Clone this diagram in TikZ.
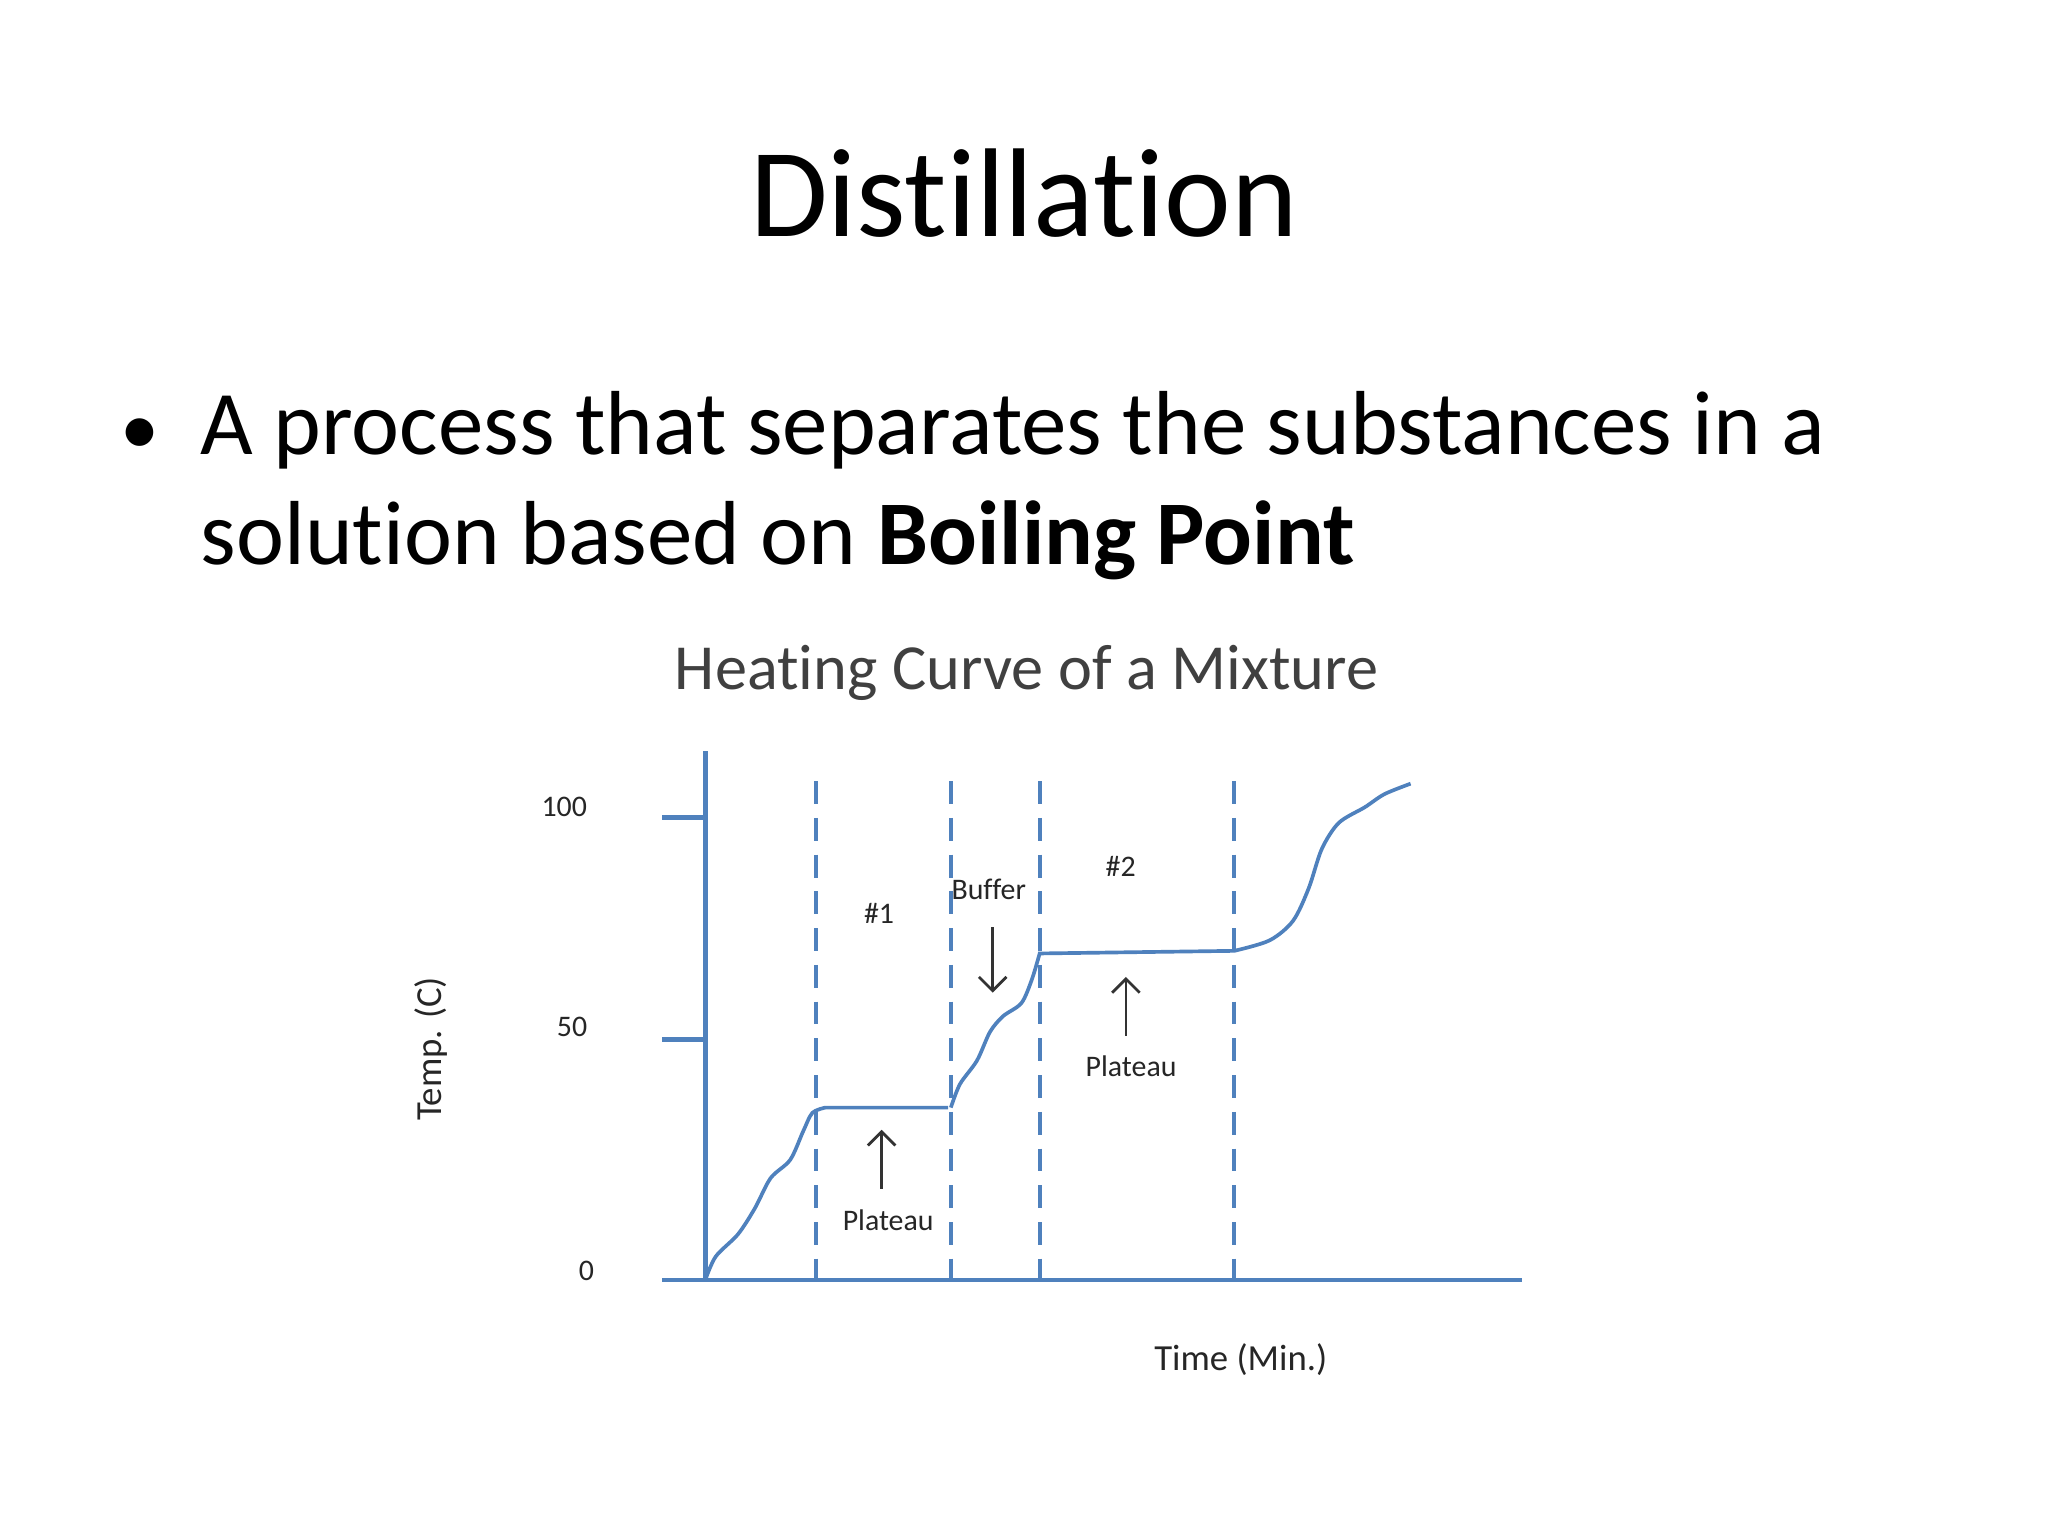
\documentclass[tikz,border=0pt]{standalone}
\usepackage{fontspec}
\setmainfont[Ligatures=NoCommon]{Carlito}
\usetikzlibrary{arrows.meta}
\definecolor{cblue}{RGB}{79,129,189}
\begin{document}
\begin{tikzpicture}[x=0.01cm,y=-0.01cm,
  ax/.style={cblue,line width=1pt},
  dsh/.style={cblue,line width=0.8pt,dash pattern=on 5pt off 3pt},
  small/.style={font=\fontsize{6.5}{7}\selectfont,text=black!85},
  arr/.style={-{Straight Barb[length=3pt]},black!80,line width=0.6pt}]
\useasboundingbox[fill=white] (0,0) rectangle (1568,1176);
\node (title) at (784,148) {\fontsize{27.5}{32}\selectfont Distillation};
\node[anchor=base,inner sep=0] (b) at (107,348) {\fontsize{17}{24}\selectfont •};
\node[anchor=base west,inner sep=0] (l1) at (153,348) {\fontsize{19.8}{24}\selectfont A process that separates the substances in a};
\node[anchor=base west,inner sep=0] (l2) at (153,432) {\fontsize{19.8}{24}\selectfont solution based on \textbf{Boiling Point}};
\node[text=black!75] (ct) at (786,515) {\fontsize{14}{16}\selectfont Heating Curve of a Mixture};
% axes
\coordinate (o) at (540,980);
\coordinate (yt) at (540,575);
\coordinate (xl) at (507,980);
\coordinate (xr) at (1165,980);
\draw[ax] (o) -- (yt);
\draw[ax] (xl) -- (xr);
\coordinate (t1a) at (507,626); \coordinate (t1b) at (540,626);
\coordinate (t2a) at (507,796); \coordinate (t2b) at (540,796);
\draw[ax] (t1a) -- (t1b);
\draw[ax] (t2a) -- (t2b);
\node[small] (n100) at (432,618) {100};
\node[small] (n50) at (438,786) {50};
\node[small] (n0) at (449,973) {0};
\node[small,rotate=90,font=\fontsize{8}{9}\selectfont] (yl) at (330,803) {Temp. (C)};
\node[small,font=\fontsize{8}{9}\selectfont] (xlab) at (950,1041) {Time (Min.)};
% dashed
\foreach \x in {625,728,796,945}{\draw[dsh] (\x,598) -- (\x,980);}
% curve
\draw[cblue,line width=0.8pt] plot[smooth,tension=0.5] coordinates {(540,980) (548,962) (565,945) (578,925) (590,902) (605,888) (615,866) (622,852) (632,848)} -- (726,848)
  plot[smooth,tension=0.5] coordinates {(728,848) (735,830) (748,812) (758,790) (768,778) (782,768) (790,750) (796,730)} -- (945,728)
  plot[smooth,tension=0.5] coordinates {(945,728) (972,720) (990,705) (1002,680) (1012,650) (1025,630) (1045,618) (1060,608) (1080,600)};
% labels
\node[small] (h1) at (673,699) {\#1};
\node[small] (buf) at (757,681) {Buffer};
\node[small] (h2) at (858,663) {\#2};
\node[small] (p1) at (680,934) {Plateau};
\node[small] (p2) at (866,816) {Plateau};
\coordinate (a1s) at (675,910); \coordinate (a1e) at (675,865);
\coordinate (a2s) at (760,710); \coordinate (a2e) at (760,760);
\coordinate (a3s) at (862,793); \coordinate (a3e) at (862,748);
\draw[arr] (a1s) -- (a1e);
\draw[arr] (a2s) -- (a2e);
\draw[arr] (a3s) -- (a3e);
\end{tikzpicture}
\end{document}
